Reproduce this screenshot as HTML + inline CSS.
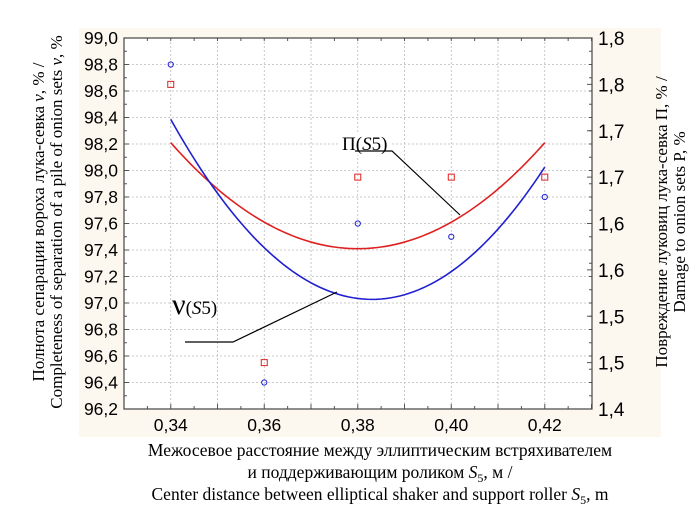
<!DOCTYPE html>
<html><head><meta charset="utf-8"><style>
html,body{margin:0;padding:0;background:#fff;}
svg{display:block;font-family:"Liberation Sans","Noto Sans CJK SC",sans-serif;}
.serif, .serif text{font-family:"Liberation Serif","DejaVu Serif",serif;}
</style></head><body>
<svg id="chart" width="700" height="513" viewBox="0 0 700 513">
<rect x="79" y="28" width="582" height="409" fill="#fdf8ef"/>
<rect x="124" y="38" width="468" height="371" fill="#fff"/>
<g id="grid"></g><g id="axes"></g><g id="series"></g>
<g class="serif" fill="#000">
<text transform="translate(44,222) rotate(-90)" text-anchor="middle" font-size="17" font-family="Liberation Serif, serif">Полнота сепарации вороха лука-севка <tspan font-style="italic">v</tspan>, % /</text>
<text transform="translate(62,222) rotate(-90)" text-anchor="middle" font-size="17" font-family="Liberation Serif, serif">Completeness of separation of a pile of onion sets <tspan font-style="italic">v</tspan>, %</text>
</g>
<g class="serif" fill="#000">
<text transform="translate(667,222) rotate(-90)" text-anchor="middle" font-size="17" font-family="Liberation Serif, serif">Повреждение луковиц лука-севка П, % /</text>
<text transform="translate(685,222) rotate(-90)" text-anchor="middle" font-size="17" font-family="Liberation Serif, serif">Damage to onion sets P, %</text>
</g>
<g class="serif" fill="#000" font-size="17.5" text-anchor="middle" font-family="Liberation Serif, serif">
<text x="380" y="456">Межосевое расстояние между эллиптическим встряхивателем</text>
<text x="380" y="478">и поддерживающим роликом <tspan font-style="italic">S</tspan><tspan font-size="12" dy="4">5</tspan><tspan dy="-4">, м /</tspan></text>
<text x="380" y="500">Center distance between elliptical shaker and support roller <tspan font-style="italic">S</tspan><tspan font-size="12" dy="4">5</tspan><tspan dy="-4">, m</tspan></text>
</g>
<g>
<rect x="340" y="133" width="52" height="22" fill="#fff"/>
<text class="serif" font-family="Liberation Serif, serif" x="342" y="150" font-size="19">П(<tspan font-style="italic">S</tspan>5)</text>
<polyline points="355,151 392,151 460,215" fill="none" stroke="#000" stroke-width="1.2"/>
</g>
<g>
<text class="serif" font-family="Liberation Serif, serif" x="172" y="314" font-size="30">ν<tspan font-size="19">(<tspan font-style="italic">S</tspan>5)</tspan></text>
<polyline points="185,342 233,342 337,292" fill="none" stroke="#000" stroke-width="1.2"/>
</g>
</svg>
<script>
const xValues = [0.34, 0.36, 0.38, 0.40, 0.42];
const nuValues = [98.8, 96.4, 97.6, 97.5, 97.8];
const piValues = [1.75, 1.45, 1.65, 1.65, 1.65];
const xTicks = [0.34, 0.36, 0.38, 0.40, 0.42];
const xTickLabels = ["0,34","0,36","0,38","0,40","0,42"];
const leftTicks = [99.0,98.8,98.6,98.4,98.2,98.0,97.8,97.6,97.4,97.2,97.0,96.8,96.6,96.4,96.2];
const rightTicks = [1.8,1.75,1.7,1.65,1.6,1.55,1.5,1.45,1.4];
const rightTickLabels = ["1,8","1,8","1,7","1,7","1,6","1,6","1,5","1,5","1,4"];

const L=124,R=592,T=38,B=409;
const X0=0.33,X1=0.4301;
const sx=v=>L+(v-X0)/(X1-X0)*(R-L);
const syL=v=>T+(99.0-v)/(99.0-96.2)*(B-T);
const syR=v=>T+(1.8-v)/(1.8-1.4)*(B-T);
const NS="http://www.w3.org/2000/svg";
function mk(tag,attrs,parent){const e=document.createElementNS(NS,tag);for(const k in attrs)e.setAttribute(k,attrs[k]);parent.appendChild(e);return e;}
const grid=document.getElementById('grid'),axes=document.getElementById('axes'),series=document.getElementById('series');

for(let i=0;i<=10;i++){const v=0.33+i*0.01;const x=sx(v);if(x<=L+1||x>=R-1)continue;
 const g=mk('line',{x1:x,y1:T,x2:x,y2:B,stroke:'#bbb','stroke-dasharray':'2,2','stroke-width':0.8},grid);
 
 }
leftTicks.forEach((v,i)=>{const y=syL(v);
 if(i>0&&i<leftTicks.length-1){const g=mk('line',{x1:L,y1:y,x2:R,y2:y,stroke:'#bbb','stroke-dasharray':'2,2','stroke-width':0.8},grid);
 
 }
 const t=mk('text',{x:118,y:y+6,'text-anchor':'end','font-size':17.5},axes);t.textContent=v.toFixed(1).replace('.',',');
 
 
 mk('line',{x1:L,y1:y,x2:L+5,y2:y,stroke:'#555'},axes);
});
for(let i=0;i<28;i++){const y=syL(96.3+i*0.1);mk('line',{x1:L,y1:y,x2:L+3,y2:y,stroke:'#555'},axes);mk('line',{x1:R,y1:y,x2:R-3,y2:y,stroke:'#555'},axes);}
rightTicks.forEach((v,i)=>{const y=syR(v);
 mk('line',{x1:R,y1:y,x2:R-5,y2:y,stroke:'#555'},axes);
 const t=mk('text',{x:598,y:y+7,'font-size':19},axes);t.textContent=rightTickLabels[i];
 
 
});
for(let i=0;i<=20;i++){const x=sx(0.33+i*0.005);if(x>R)break;mk('line',{x1:x,y1:B,x2:x,y2:B-(i%2==0?5:3),stroke:'#555'},axes);mk('line',{x1:x,y1:T,x2:x,y2:T+3,stroke:'#555'},axes);}
xTicks.forEach((v,i)=>{const t=mk('text',{x:sx(v),y:431,'text-anchor':'middle','font-size':17.5},axes);t.textContent=xTickLabels[i];
 
 });
const fr=mk('rect',{x:L,y:T,width:R-L,height:B-T,fill:'none',stroke:'#444','stroke-width':1.2},axes);



function fit(xs,ys){let n=xs.length,S=[0,0,0,0,0],Y=[0,0,0];
 for(let i=0;i<n;i++){const x=xs[i];for(let p=0;p<5;p++)S[p]+=Math.pow(x,p);for(let p=0;p<3;p++)Y[p]+=ys[i]*Math.pow(x,p);}
 const M=[[S[0],S[1],S[2],Y[0]],[S[1],S[2],S[3],Y[1]],[S[2],S[3],S[4],Y[2]]];
 for(let c=0;c<3;c++){for(let r=c+1;r<3;r++){const f=M[r][c]/M[c][c];for(let k=c;k<4;k++)M[r][k]-=f*M[c][k];}}
 const a=[0,0,0];for(let r=2;r>=0;r--){let s=M[r][3];for(let k=r+1;k<3;k++)s-=M[r][k]*a[k];a[r]=s/M[r][r];}
 return x=>a[0]+a[1]*x+a[2]*x*x;}
function curve(ys,sy,color,name){const xc=xValues.map(v=>v-0.38);const f=fit(xc,ys);let d='';
 const x0=xValues[0],x1=xValues[xValues.length-1];
 for(let i=0;i<=80;i++){const v=x0+(x1-x0)*i/80;d+=(i?'L':'M')+sx(v).toFixed(2)+','+sy(f(v-0.38)).toFixed(2);}
 const p=mk('path',{d:d,fill:'none',stroke:color,'stroke-width':1.6},series);
 
 }
curve(piValues,syR,'#e02020','pi-fit-curve');
curve(nuValues,syL,'#2020d0','nu-fit-curve');
xValues.forEach((v,i)=>{
 const s=mk('rect',{x:sx(v)-3,y:syR(piValues[i])-3,width:6,height:6,fill:'none',stroke:'#e02020','stroke-width':1},series);
 
 
 const c=mk('circle',{cx:sx(v),cy:syL(nuValues[i]),r:2.6,fill:'none',stroke:'#2020d0','stroke-width':1},series);
 
 
});
</script>
</body></html>
